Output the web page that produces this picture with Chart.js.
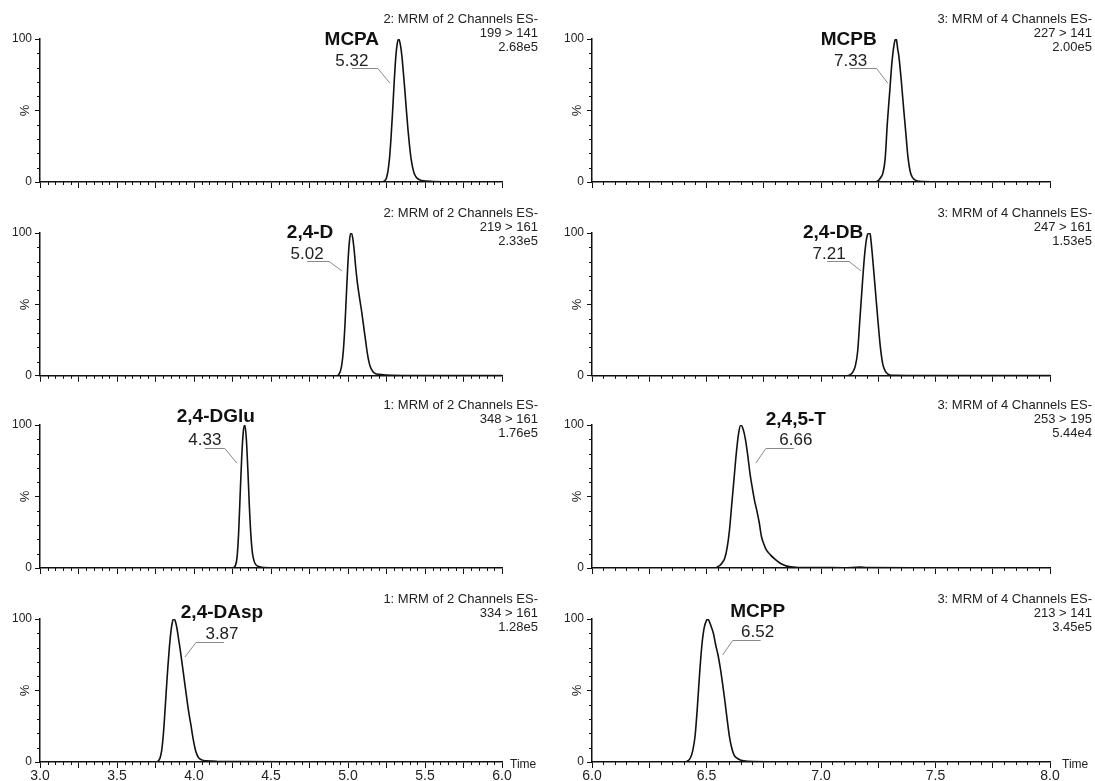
<!DOCTYPE html>
<html>
<head>
<meta charset="utf-8">
<script src="https://cdn.jsdelivr.net/npm/chart.js@4.4.1/dist/chart.umd.min.js"></script>
<style>
  html, body { margin: 0; padding: 0; background: #fff; }
  #wrap { position: relative; width: 1095px; height: 781px; overflow: hidden; }
  canvas { position: absolute; }
</style>
</head>
<body>
<div id="wrap"></div>
<script>
// trace data: time (min) and relative intensity (%)
const mcpaTime = [4.60, 5.10, 5.22, 5.24, 5.25, 5.26, 5.27, 5.28, 5.29, 5.30, 5.31, 5.32, 5.33, 5.34, 5.35, 5.36, 5.37, 5.38, 5.39, 5.40, 5.41, 5.42, 5.43, 5.45, 5.48, 5.55, 5.70, 6.00];
const mcpaPct  = [0, 0, 0, 1, 3, 8, 17, 32, 50, 70, 87, 97, 100, 96, 88, 76, 63, 49, 36, 25, 16, 10, 6, 2.5, 1, 0.4, 0.2, 0.2];

const d24Time = [4.60, 4.85, 4.93, 4.94, 4.95, 4.96, 4.97, 4.98, 4.99, 5.00, 5.01, 5.02, 5.03, 5.04, 5.05, 5.06, 5.07, 5.08, 5.09, 5.10, 5.11, 5.12, 5.13, 5.14, 5.15, 5.17, 5.20, 5.25, 5.40, 6.00];
const d24Pct  = [0, 0, 0, 1, 3, 8, 18, 35, 58, 80, 95, 100, 97, 88, 76, 66, 58, 51, 44, 36, 28, 20, 13, 8, 5, 2, 1, 0.5, 0.2, 0.2];

const dgluTime = [3.00, 4.20, 4.25, 4.27, 4.28, 4.29, 4.30, 4.31, 4.32, 4.33, 4.34, 4.35, 4.36, 4.37, 4.38, 4.39, 4.40, 4.42, 4.45, 4.55, 4.70];
const dgluPct  = [0, 0, 0, 2, 8, 25, 52, 78, 95, 100, 90, 68, 42, 22, 10, 5, 2.5, 1, 0.4, 0.2, 0.2];

const daspTime = [3.00, 3.70, 3.76, 3.77, 3.78, 3.79, 3.80, 3.81, 3.82, 3.83, 3.84, 3.85, 3.86, 3.87, 3.88, 3.89, 3.90, 3.91, 3.92, 3.93, 3.94, 3.95, 3.96, 3.97, 3.98, 3.99, 4.00, 4.01, 4.02, 4.03, 4.05, 4.08, 4.15, 4.30, 4.70];
const daspPct  = [0, 0, 0, 1, 3, 8, 18, 33, 50, 66, 80, 91, 98, 100, 98, 93, 86, 79, 71, 63, 55, 47, 39, 32, 26, 19, 13, 8, 5, 3, 1.5, 0.8, 0.4, 0.3, 0.2];

const mcpbTime = [6.00, 7.00, 7.23, 7.25, 7.26, 7.27, 7.28, 7.29, 7.30, 7.31, 7.32, 7.326, 7.33, 7.335, 7.34, 7.35, 7.36, 7.37, 7.38, 7.39, 7.40, 7.41, 7.43, 7.50, 8.00];
const mcpbPct  = [0, 0, 0, 1, 3, 6, 16, 42, 63, 84, 97, 100, 99, 93, 88, 72, 53, 35, 17, 7, 3, 1.5, 0.5, 0.2, 0.2];

const dbTime = [6.00, 6.90, 7.11, 7.13, 7.14, 7.15, 7.16, 7.17, 7.18, 7.19, 7.20, 7.21, 7.215, 7.22, 7.23, 7.24, 7.25, 7.26, 7.27, 7.28, 7.29, 7.30, 7.32, 7.40, 8.00];
const dbPct  = [0, 0, 0, 1, 3, 7, 17, 40, 63, 84, 97, 100, 99, 92, 74, 55, 36, 19, 8, 3.5, 1.5, 0.6, 0.3, 0.2, 0.2];

const t245Time = [6.00, 6.50, 6.54, 6.55, 6.56, 6.57, 6.58, 6.59, 6.60, 6.61, 6.62, 6.63, 6.64, 6.65, 6.66, 6.67, 6.68, 6.69, 6.70, 6.71, 6.72, 6.73, 6.74, 6.75, 6.76, 6.78, 6.80, 6.82, 6.84, 6.86, 6.90, 7.00, 7.10, 7.17, 7.20, 7.40, 8.00];
const t245Pct  = [0, 0, 0, 1, 2, 4, 7, 14, 26, 44, 62, 80, 94, 100, 97, 90, 79, 66, 56, 47, 40, 32, 22, 17, 13, 9, 6, 3.5, 2, 1, 0.4, 0.3, 0.2, 0.6, 0.3, 0.2, 0.2];

const mcppTime = [6.00, 6.40, 6.42, 6.43, 6.44, 6.45, 6.46, 6.47, 6.48, 6.49, 6.50, 6.505, 6.51, 6.52, 6.53, 6.54, 6.55, 6.56, 6.57, 6.58, 6.59, 6.60, 6.61, 6.62, 6.63, 6.65, 6.68, 6.80, 8.00];
const mcppPct  = [0, 0, 1, 3, 8, 18, 38, 62, 82, 94, 99, 100, 99, 95, 90, 82, 75, 66, 55, 43, 30, 18, 10, 5, 3, 1.2, 0.5, 0.2, 0.2];

const compoundNames = ["MCPA", "2,4-D", "2,4-DGlu", "2,4-DAsp", "MCPB", "2,4-DB", "2,4,5-T", "MCPP"];
const rtLabels = ["5.32", "5.02", "4.33", "3.87", "7.33", "7.21", "6.66", "6.52"];
const functionLabels = ["2: MRM of 2 Channels ES-", "2: MRM of 2 Channels ES-", "1: MRM of 2 Channels ES-", "1: MRM of 2 Channels ES-",
                        "3: MRM of 4 Channels ES-", "3: MRM of 4 Channels ES-", "3: MRM of 4 Channels ES-", "3: MRM of 4 Channels ES-"];
const transitions = ["199 > 141", "219 > 161", "348 > 161", "334 > 161", "227 > 141", "247 > 161", "253 > 195", "213 > 141"];
const intensities = ["2.68e5", "2.33e5", "1.76e5", "1.28e5", "2.00e5", "1.53e5", "5.44e4", "3.45e5"];
const leftRange = [3.0, 6.0];
const rightRange = [6.0, 8.0];
const yTickLabels = { 0: "0", 100: "100" };

const traces = [
  [mcpaTime, mcpaPct], [d24Time, d24Pct], [dgluTime, dgluPct], [daspTime, daspPct],
  [mcpbTime, mcpbPct], [dbTime, dbPct], [t245Time, t245Pct], [mcppTime, mcppPct]
];

// label/callout placement, px relative to peak apex and plot top
const callouts = [
  { name: [-47, 1],  rt: [-47, 22], line: [-47, -21, 29], tip: [-9, 44] },
  { name: [-41, 0],  rt: [-44, 21], line: [-44, -22, 28], tip: [-9, 38] },
  { name: [-29, -8], rt: [-40, 15], line: [-40, -20, 23], tip: [-8, 38] },
  { name: [48, -6],  rt: [48, 15],  line: [50, 22, 23],   tip: [11, 38] },
  { name: [-47, 1],  rt: [-45, 22], line: [-46, -19, 29], tip: [-8, 44] },
  { name: [-36, 0],  rt: [-40, 21], line: [-42, -20, 28], tip: [-8, 38] },
  { name: [55, -5],  rt: [55, 15],  line: [53, 25, 23],   tip: [15, 38] },
  { name: [50, -7],  rt: [50, 13],  line: [53, 25, 21],   tip: [15, 36] }
];

const rowTops = [0, 194, 386, 580, 781];
const INK = "#111";
const FONT = "Arial, 'Liberation Sans', sans-serif";

function apexTime(t, y) {
  let k = 0;
  for (let i = 1; i < y.length; i++) if (y[i] > y[k]) k = i;
  return t[k];
}

const panelDecor = {
  id: "panelDecor",
  afterDraw(chart) {
    const o = chart.options.plugins.panelDecor;
    const ctx = chart.ctx;
    const a = chart.chartArea;
    const xs = chart.scales.x, ys = chart.scales.y;
    ctx.save();
    ctx.strokeStyle = INK;
    ctx.lineWidth = 1;
    // minor ticks
    const n = Math.round((xs.max - xs.min) / 0.05);
    ctx.beginPath();
    for (let i = 0; i <= n; i++) {
      if (i % 5 === 0) continue;
      const px = Math.round(xs.getPixelForValue(xs.min + i * 0.05)) + 0.5;
      ctx.moveTo(px, a.bottom); ctx.lineTo(px, a.bottom + 3);
    }
    for (let v = 10; v < 100; v += 10) {
      if (v === 50) continue;
      const py = Math.round(ys.getPixelForValue(v)) + 0.5;
      ctx.moveTo(a.left - 3, py); ctx.lineTo(a.left, py);
    }
    ctx.stroke();

    ctx.fillStyle = "#222";
    // % label
    ctx.save();
    ctx.translate(a.left - 15, ys.getPixelForValue(50));
    ctx.rotate(-Math.PI / 2);
    ctx.font = "13px " + FONT;
    ctx.textAlign = "center";
    ctx.textBaseline = "middle";
    ctx.fillText("%", 0, 0);
    ctx.restore();

    // header lines
    ctx.font = "13px " + FONT;
    ctx.textAlign = "right";
    ctx.textBaseline = "middle";
    const hx = a.right + o.headerDx;
    ctx.fillText(functionLabels[o.idx], hx, a.top - 20);
    ctx.fillText(transitions[o.idx], hx, a.top - 6);
    ctx.fillText(intensities[o.idx], hx, a.top + 8);

    // time label
    if (o.bottom) {
      ctx.textAlign = "left";
      ctx.textBaseline = "alphabetic";
      ctx.font = "12px " + FONT;
      ctx.fillText("Time", a.right + o.timeDx, a.bottom + 6);
    }

    // compound callout
    const c = callouts[o.idx];
    const tr = traces[o.idx];
    const px = xs.getPixelForValue(apexTime(tr[0], tr[1]));
    const top = a.top;
    ctx.strokeStyle = "#8a8a8a";
    ctx.lineWidth = 1;
    ctx.beginPath();
    ctx.moveTo(px + c.line[0], top + c.line[2] + 0.5);
    ctx.lineTo(px + c.line[1], top + c.line[2] + 0.5);
    ctx.lineTo(px + c.tip[0], top + c.tip[1]);
    ctx.stroke();
    ctx.fillStyle = INK;
    ctx.textAlign = "center";
    ctx.textBaseline = "middle";
    ctx.font = "bold 19px " + FONT;
    ctx.fillText(compoundNames[o.idx], px + c.name[0], top + c.name[1]);
    ctx.fillStyle = "#222";
    ctx.font = "17px " + FONT;
    ctx.fillText(rtLabels[o.idx], px + c.rt[0], top + c.rt[1]);
    ctx.restore();
  }
};

const wrap = document.getElementById("wrap");

for (let idx = 0; idx < 8; idx++) {
  const col = idx < 4 ? 0 : 1;
  const row = idx % 4;
  const bottom = row === 3;
  const range = col === 0 ? leftRange : rightRange;
  const left = col === 0 ? 0 : 547;
  const width = col === 0 ? 547 : 548;
  const top = rowTops[row];
  const height = rowTops[row + 1] - top;
  const yAxisW = col === 0 ? 40 : 45;
  const padRight = 45;

  const cv = document.createElement("canvas");
  cv.width = width; cv.height = height;
  cv.style.left = left + "px"; cv.style.top = top + "px";
  cv.style.width = width + "px"; cv.style.height = height + "px";
  wrap.appendChild(cv);

  const tr = traces[idx];
  new Chart(cv, {
    type: "line",
    data: {
      datasets: [{
        data: tr[0].map((t, i) => ({ x: t, y: tr[1][i] })),
        borderColor: INK,
        borderWidth: 1.6,
        pointRadius: 0,
        cubicInterpolationMode: "monotone",
        fill: false
      }]
    },
    options: {
      responsive: false,
      animation: false,
      devicePixelRatio: 1,
      layout: { padding: { top: 39, right: padRight, left: 0, bottom: 0 } },
      plugins: {
        legend: { display: false },
        tooltip: { enabled: false },
        panelDecor: { idx: idx, bottom: bottom, headerDx: col === 0 ? 36 : 42, timeDx: col === 0 ? 8 : 12 }
      },
      scales: {
        x: {
          type: "linear",
          min: range[0], max: range[1],
          border: { color: INK, width: 1.5 },
          grid: { drawOnChartArea: false, drawTicks: true, tickLength: 6, tickColor: INK, tickWidth: 1 },
          ticks: {
            stepSize: 0.25,
            autoSkip: false,
            maxRotation: 0,
            padding: 0,
            color: "#222",
            font: { family: FONT, size: 14 },
            callback: v => (bottom && Math.abs(v * 2 - Math.round(v * 2)) < 1e-6) ? v.toFixed(1) : ""
          },
          afterFit: s => { s.height = height - 182; }
        },
        y: {
          min: 0, max: 100,
          border: { color: INK, width: 1.5 },
          grid: { drawOnChartArea: false, drawTicks: true, tickLength: 5, tickColor: INK, tickWidth: 1 },
          ticks: {
            stepSize: 50,
            padding: 3,
            color: "#222",
            font: { family: FONT, size: 12 },
            callback: v => yTickLabels[v] || ""
          },
          afterFit: s => { s.width = yAxisW; }
        }
      }
    },
    plugins: [panelDecor]
  });
}
</script>
</body>
</html>
